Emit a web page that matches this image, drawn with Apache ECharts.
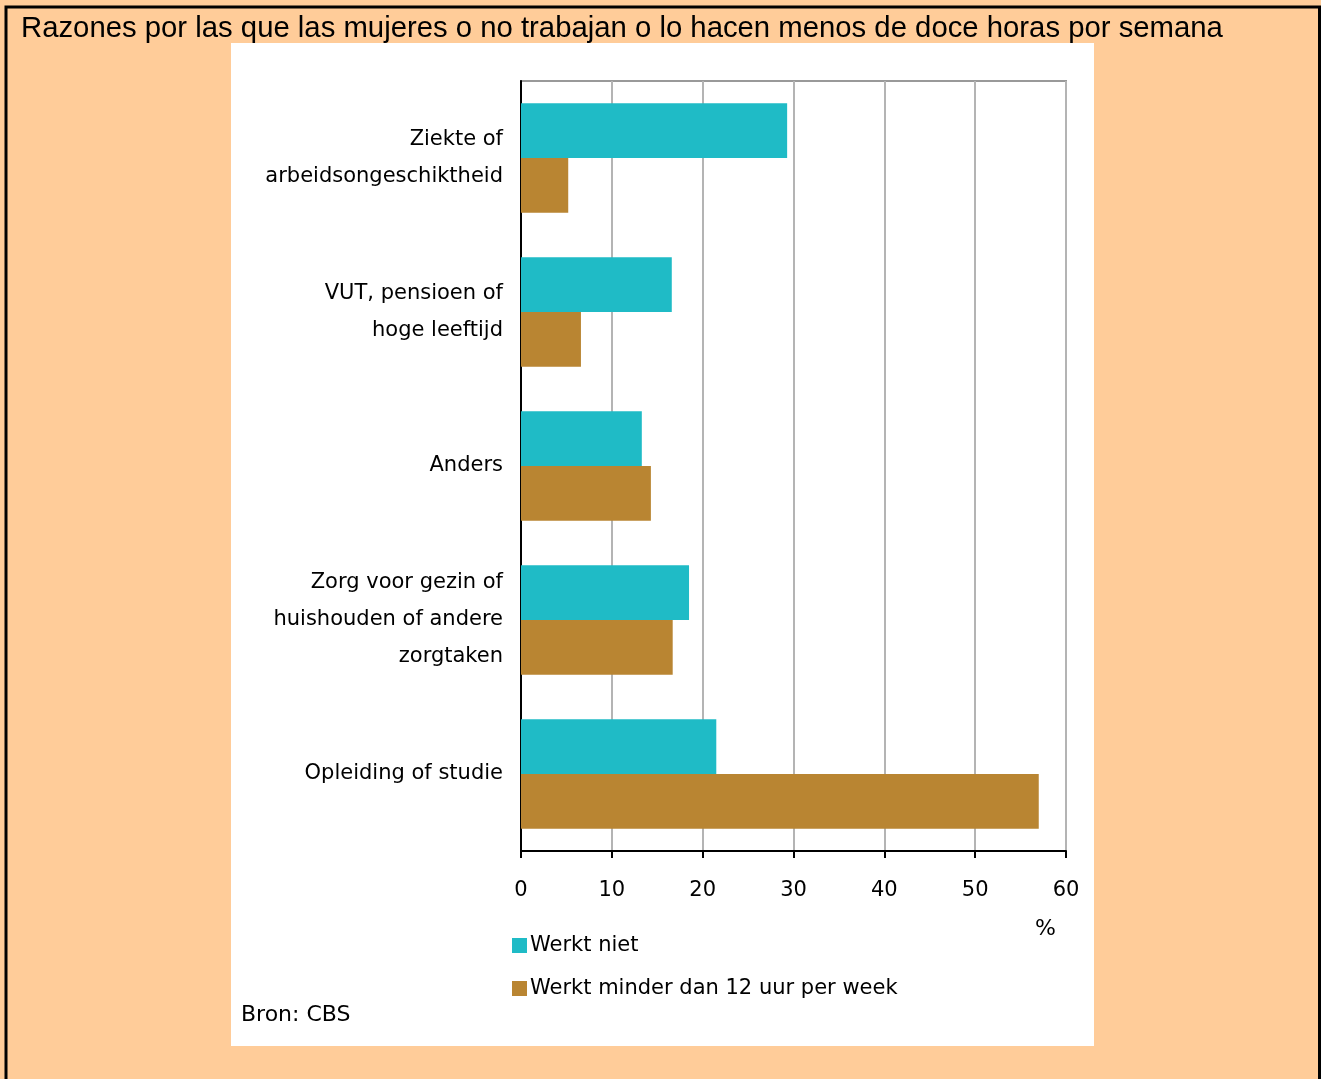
<!DOCTYPE html>
<html>
<head>
<meta charset="utf-8">
<script src="https://cdn.jsdelivr.net/npm/echarts@6/dist/echarts.min.js"></script>
<style>
html,body{margin:0;padding:0;background:#fff;}
#chart{width:1321px;height:1079px;}
</style>
</head>
<body>
<div id="chart"></div>
<script>
var categories = [
  'Ziekte of\narbeidsongeschiktheid',
  'VUT, pensioen of\nhoge leeftijd',
  'Anders',
  'Zorg voor gezin of\nhuishouden of andere\nzorgtaken',
  'Opleiding of studie'
];
var werktNiet = [29.3, 16.6, 13.3, 18.5, 21.5];
var werktMinder = [5.2, 6.6, 14.3, 16.7, 57.0];
var seriesNames = ['Werkt niet', 'Werkt minder dan 12 uur per week'];
var xTicks = [0, 10, 20, 30, 40, 50, 60];

var labelFont = '"DejaVu Sans", sans-serif';
var chart = echarts.init(document.getElementById('chart'));
chart.setOption({
  backgroundColor: '#FFCC99',
  animation: false,
  title: {
    text: 'Razones por las que las mujeres o no trabajan o lo hacen menos de doce horas por semana',
    left: 16, top: 9,
    textStyle: {fontFamily: '"Liberation Sans", Arial, sans-serif', fontSize: 29.3, fontWeight: 'normal', color: '#000'}
  },
  graphic: [
    {type: 'rect', z: -10, shape: {x: 6, y: 7, width: 1313.5, height: 1080}, style: {fill: 'none', stroke: '#000', lineWidth: 3}},
    {type: 'rect', z: -9, shape: {x: 231, y: 43, width: 863, height: 1003}, style: {fill: '#fff'}},
    {type: 'text', left: 1035, top: 918, style: {text: '%', fontFamily: labelFont, fontSize: 22, fill: '#000'}},
    {type: 'text', left: 241, top: 1004, style: {text: 'Bron: CBS', fontFamily: labelFont, fontSize: 22, fill: '#000'}}
  ],
  legend: {
    orient: 'vertical', left: 507, top: 930,
    itemWidth: 15, itemHeight: 15, itemGap: 22,
    icon: 'rect',
    textStyle: {fontFamily: labelFont, fontSize: 21, color: '#000', padding: [0,0,0,-2]},
    data: seriesNames
  },
  grid: {
    left: 521, right: 255, top: 81, bottom: 228,
    show: true, borderColor: '#999', borderWidth: 2, backgroundColor: '#fff'
  },
  xAxis: {
    type: 'value', min: 0, max: 60, interval: 10,
    axisLine: {show: true, lineStyle: {color: '#000', width: 2}},
    axisTick: {show: true, length: 7, lineStyle: {color: '#000', width: 2}},
    axisLabel: {margin: 29, fontFamily: labelFont, fontSize: 21, color: '#000',
      formatter: function(v){ return xTicks.indexOf(v) >= 0 ? String(v) : ''; }},
    splitLine: {show: true, lineStyle: {color: '#b4b4b4', width: 2}}
  },
  yAxis: {
    type: 'category', inverse: true, data: categories,
    axisLine: {show: true, lineStyle: {color: '#000', width: 2}},
    axisTick: {show: false},
    axisLabel: {margin: 18, fontFamily: labelFont, fontSize: 21, color: '#000', lineHeight: 37, align: 'right'}
  },
  series: [
    {name: seriesNames[0], type: 'bar', data: werktNiet, barGap: '0%', barCategoryGap: '29%',
     itemStyle: {color: '#1FBBC6'}},
    {name: seriesNames[1], type: 'bar', data: werktMinder, barGap: '0%', barCategoryGap: '29%',
     itemStyle: {color: '#B98532'}}
  ]
});
</script>
</body>
</html>
